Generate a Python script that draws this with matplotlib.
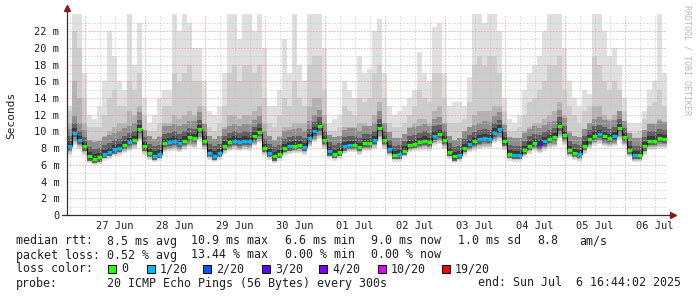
import numpy as np
import matplotlib
matplotlib.use('Agg')
import matplotlib.pyplot as plt
import matplotlib.dates as mdates
from matplotlib.patches import Rectangle
from datetime import datetime, timedelta

# ---- data (2 hour steps) ----
start = datetime(2025, 6, 26, 16, 44, 2)
end = datetime(2025, 7, 6, 16, 44, 2)

median = [8.3, 9.85, 9.0, 8.2, 7.0, 6.75, 6.9, 7.3, 7.55, 7.85,
          8.0, 8.4, 8.7, 9.0, 10.3, 8.2, 7.45, 7.1, 7.3, 8.6,
          8.7, 8.9, 8.6, 8.9, 9.3, 9.2, 10.3, 8.9, 7.4, 7.1,
          7.4, 8.3, 8.7, 8.9, 8.7, 8.9, 8.85, 9.4, 9.9, 8.0,
          7.4, 7.0, 7.3, 8.0, 8.2, 8.3, 8.4, 8.1, 9.2, 10.0,
          10.6, 9.0, 7.6, 7.3, 7.5, 8.2, 8.4, 8.4, 8.1, 8.6,
          8.6, 9.0, 10.4, 9.0, 7.9, 7.2, 7.25, 7.7, 8.4, 8.5,
          8.7, 8.9, 8.7, 9.5, 9.7, 9.0, 7.5, 7.0, 7.2, 8.0,
          8.5, 8.8, 9.05, 9.2, 9.1, 9.85, 10.3, 8.8, 7.3, 7.2,
          7.2, 7.8, 8.3, 8.6, 8.45, 8.8, 9.1, 9.3, 10.6, 9.6,
          7.8, 7.45, 7.3, 8.3, 9.05, 9.5, 9.7, 9.4, 9.2, 9.4,
          10.4, 9.3, 7.8, 7.2, 7.2, 8.2, 8.9, 8.9, 9.2, 9.1]

# lost pings out of 20 for each step
loss = [1, 1, 1, 0, 0, 0, 0, 1, 1, 1, 1, 0, 1, 0, 0, 0, 0, 1, 1, 0,
        1, 1, 1, 0, 0, 0, 0, 0, 1, 1, 1, 0, 0, 1, 1, 1, 1, 0, 0, 0,
        1, 0, 0, 0, 1, 0, 0, 1, 1, 1, 0, 0, 1, 0, 0, 1, 1, 0, 0, 0,
        0, 1, 0, 0, 1, 0, 1, 0, 0, 0, 0, 0, 0, 1, 0, 0, 0, 0, 1, 0,
        1, 0, 1, 1, 1, 1, 1, 0, 0, 1, 1, 0, 0, 0, 3, 1, 0, 0, 0, 0,
        0, 0, 1, 0, 0, 0, 1, 0, 0, 1, 0, 0, 0, 1, 0, 0, 0, 0, 0, 0]

# smoke: lowest ping, upper quartile-ish, 90th pct-ish, highest ping
ping_low = [7.2, 8.4, 7.9, 7.2, 6.2, 6.0, 6.1, 6.5, 6.7, 7.0,
            7.1, 7.4, 7.6, 7.9, 8.8, 7.2, 6.6, 6.3, 6.5, 7.5,
            7.6, 7.7, 7.5, 7.8, 8.1, 8.0, 8.9, 7.8, 6.6, 6.3,
            6.6, 7.3, 7.6, 7.8, 7.6, 7.8, 7.7, 8.2, 8.6, 7.1,
            6.6, 6.2, 6.5, 7.1, 7.3, 7.4, 7.4, 7.2, 8.1, 8.7,
            9.1, 7.9, 6.8, 6.5, 6.7, 7.3, 7.5, 7.5, 7.2, 7.6,
            7.6, 7.9, 9.0, 7.9, 7.0, 6.4, 6.4, 6.9, 7.5, 7.6,
            7.7, 7.8, 7.7, 8.3, 8.5, 7.9, 6.7, 6.2, 6.4, 7.1,
            7.5, 7.7, 7.9, 8.0, 8.0, 8.6, 8.9, 7.8, 6.5, 6.4,
            6.4, 6.9, 7.3, 7.6, 7.4, 7.7, 8.0, 8.1, 9.2, 8.4,
            6.9, 6.6, 6.4, 7.3, 7.9, 8.3, 8.5, 8.2, 8.1, 8.2,
            9.0, 8.2, 6.9, 6.3, 6.3, 7.2, 7.8, 7.8, 8.0, 8.0]

ping_p75 = [11, 16, 14, 11, 9, 9, 9, 9.5, 10, 10.5,
            11, 11, 12.5, 12, 13, 10, 9, 8.8, 9.5, 11,
            11, 12, 11.5, 12, 12.5, 12, 13, 11, 9, 8.5,
            9, 10.5, 12, 12, 11.5, 12, 12, 12.5, 13, 11,
            9, 9, 9.5, 10.5, 10.5, 11, 11, 11, 13, 14,
            14, 12, 9, 8.8, 9.2, 10.5, 10.5, 10.5, 11, 11,
            10.5, 12, 13.5, 11, 9.5, 8.8, 9, 9.5, 10.5, 11,
            11.5, 11.5, 11, 12.5, 13, 11, 9, 8.8, 9, 9.5,
            10.5, 12, 12.5, 12.5, 12.5, 13, 13, 11, 9, 8.8,
            9, 10, 10.5, 11, 11, 11.5, 12, 12.5, 13.5, 12,
            10, 9.5, 9, 10, 11, 13, 13, 12, 11.5, 12,
            12.5, 11, 9, 8.8, 9, 10, 11, 11, 11.5, 11]

ping_p90 = [12.5, 22, 20, 14, 10.5, 10.5, 10.5, 12, 14, 15,
            13, 13, 16, 15, 17, 12, 10, 10, 11, 13,
            13, 17, 16, 17, 18, 16, 16, 13, 10.5, 10,
            11, 13, 17, 18, 16, 18, 18, 17, 18, 14,
            11, 10.5, 12, 14, 13, 16, 14, 13, 18, 19,
            19, 15, 10, 10, 10.5, 13, 12.5, 12, 14, 13.5,
            14, 17, 18, 14, 11, 10.5, 10.5, 11, 12, 13,
            15, 14, 13.5, 17, 17, 14, 11, 11, 11, 11.5,
            13.5, 18, 19, 18, 19, 19, 17, 12.5, 10, 10,
            10.5, 12, 13.5, 14, 15, 16, 18, 18, 19, 15,
            13, 12, 11, 12.5, 13, 19, 18, 16, 15, 16,
            15, 12.5, 10, 9.8, 10, 11.5, 13, 13.5, 15, 13]

ping_high = [13, 24, 24, 17, 12, 11.5, 13, 16, 22, 19,
             16, 15, 24, 18, 23, 14, 11, 12, 14, 15,
             15, 24, 22, 24, 23, 20, 20, 16, 12.5, 12,
             13, 17, 24, 24, 21, 24, 24, 22, 24, 20,
             13, 13, 15, 21, 17, 24, 18, 16, 24, 24,
             24, 20, 11, 11.5, 12, 16, 15, 14, 19, 17,
             17.5, 22, 23.5, 17, 13, 12, 12.5, 13, 14, 15,
             19.5, 17, 16, 22.5, 23, 17, 13, 13.5, 13.5, 13,
             16.5, 24, 24, 23, 24, 24, 22, 14, 11.5, 11,
             12, 15, 17, 18, 19, 22, 24, 24, 24, 20,
             16, 14, 13, 15, 14.5, 24, 24, 22, 19, 20,
             18, 14, 11, 11, 11, 12.5, 15, 16, 24, 17]

day_labels = ['27 Jun', '28 Jun', '29 Jun', '30 Jun', '01 Jul',
              '02 Jul', '03 Jul', '04 Jul', '05 Jul', '06 Jul']

loss_levels = [0, 1, 2, 3, 4, 10, 19]
loss_names = ['0', '1/20', '2/20', '3/20', '4/20', '10/20', '19/20']
loss_colors = ['#26ff00', '#00b8ff', '#0059ff', '#5e00ff', '#7e00ff', '#dd00ff', '#ff0000']

# ---- figure ----
W, H = 697, 297
plt.rcParams['font.family'] = ['DejaVu Sans Mono']
fig = plt.figure(figsize=(W / 100, H / 100), dpi=100)
fig.patch.set_facecolor('white')
ax = fig.add_axes([67 / W, 82 / H, 600 / W, 200.6 / H])
ax.set_facecolor('white')

times = [start + timedelta(hours=2 * i) for i in range(len(median) + 1)]
x = mdates.date2num(times)


def ext(vals):
    return np.append(np.array(vals, dtype=float), vals[-1])


top = 24
lo = ext(ping_low)
med = ext(median)
ax.fill_between(x, lo, np.minimum(ext(ping_high), top), step='post', color='#dfdfdf', lw=0, zorder=1)
ax.fill_between(x, lo + 0.15, np.minimum(ext(ping_p90), top), step='post', color='#cccccc', lw=0, zorder=1)
ax.fill_between(x, lo + 0.3, ext(ping_p75), step='post', color='#b2b2b2', lw=0, zorder=1)
ax.fill_between(x, lo + 0.45, med + 2.0, step='post', color='#8e8e8e', lw=0, zorder=1)
ax.fill_between(x, med - 0.5, med + 1.1, step='post', color='#616161', lw=0, zorder=1)
ax.fill_between(x, med - 0.25, med + 0.5, step='post', color='#3a3a3a', lw=0, zorder=1)

# grid (drawn over the smoke like rrdtool)
dots = (0, (1, 2))
for v in range(1, 24):
    major = v % 2 == 0
    ax.axhline(v, color='#e58f8f' if major else '#c4c4c4', lw=0.72, ls=dots, zorder=2)
day0 = datetime(2025, 6, 27)
for h in range(-6, 240, 6):
    t = mdates.date2num(day0 + timedelta(hours=h))
    if x[0] < t < mdates.date2num(end):
        ax.axvline(t, color='#e58f8f' if h % 24 == 0 else '#c4c4c4', lw=0.72, ls=dots, zorder=2)

# median line and loss colours
ax.step(x, med, where='post', color='#101010', lw=0.8, zorder=3)
for i, m in enumerate(median):
    c = loss_colors[loss_levels.index(loss[i])]
    ax.hlines(m, x[i], x[i + 1], color=c, lw=2.3, zorder=4)

ax.set_xlim(mdates.date2num(start), mdates.date2num(end))
ax.set_ylim(0, top)
for s in ax.spines.values():
    s.set_visible(False)

# axes with arrows
ax.plot([0, 0], [0, 1.02], transform=ax.transAxes, color='#303030', lw=0.9, clip_on=False, zorder=5)
ax.plot([-0.008, 1.006], [0, 0], transform=ax.transAxes, color='#303030', lw=0.9, clip_on=False, zorder=5)
ax.plot([0], [1.03], transform=ax.transAxes, marker='^', ms=4, color='#8b1a1a', clip_on=False, zorder=6)
ax.plot([1.01], [0], transform=ax.transAxes, marker='>', ms=4, color='#8b1a1a', clip_on=False, zorder=6)

ax.set_yticks(range(0, 23, 2))
ax.set_yticklabels(['0'] + ['%d m' % v for v in range(2, 23, 2)])
noons = [mdates.date2num(day0 + timedelta(days=d, hours=12)) for d in range(len(day_labels))]
ax.set_xticks(noons)
ax.set_xticklabels(day_labels)
ax.tick_params(axis='both', length=0, labelsize=7.5, colors='#202020')
ax.tick_params(axis='y', pad=5.5)
ax.tick_params(axis='x', pad=4)

fig.text(11 / W, 1 - 115 / H, 'Seconds', rotation=90, fontsize=8, color='#202020',
         ha='center', va='center')
fig.text(687 / W, 1 - 5 / H, 'RRDTOOL / TOBI OETIKER', rotation=270, fontsize=6,
         color='#b8b8b8', ha='center', va='top')

# ---- legend ----
fs = 8.4
cols = [107, 191, 285, 371]


def put(px, py, s):
    fig.text(px / W, 1 - py / H, s, fontsize=fs, color='#202020', ha='left', va='center')


put(16, 241, 'median rtt:')
for cx, s in zip(cols, ['8.5 ms avg', '10.9 ms max', '6.6 ms min', '9.0 ms now']):
    put(cx, 241, s)
put(458, 241, '1.0 ms sd')
put(537, 241, '8.8')
put(579, 241, 'am/s')

put(16, 255, 'packet loss:')
for cx, s in zip(cols, ['0.52 % avg', '13.44 % max', '0.00 % min', '0.00 % now']):
    put(cx, 255, s)

put(16, 269, 'loss color:')
sq_x = [108, 147, 203, 262, 319, 378, 442]
for sx, name, col in zip(sq_x, loss_names, loss_colors):
    fig.add_artist(Rectangle((sx / W, 1 - 273 / H), 8 / W, 8 / H, transform=fig.transFigure,
                             facecolor=col, edgecolor='black', lw=0.7))
    put(sx + 13, 269, name)

put(16, 283, 'probe:')
put(107, 283, '20 ICMP Echo Pings (56 Bytes) every 300s')
put(478, 283, 'end: Sun Jul  6 16:44:02 2025')

fig.savefig('out.png', dpi=100, facecolor='white')
